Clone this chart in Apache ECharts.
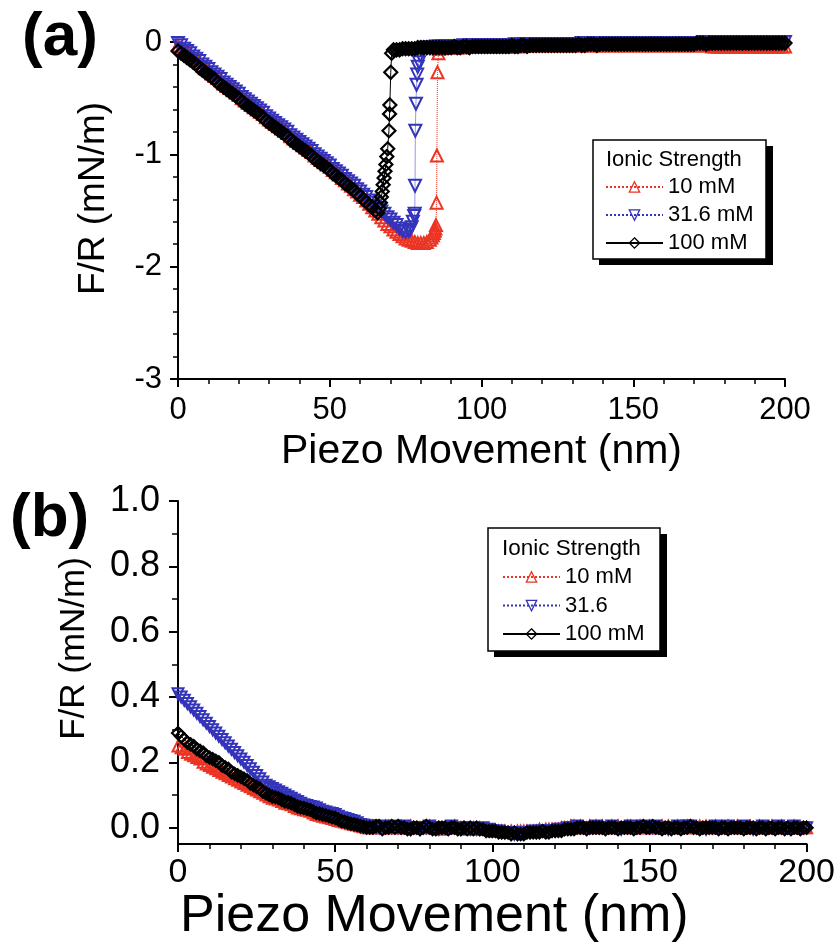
<!DOCTYPE html>
<html><head><meta charset="utf-8">
<script src="https://cdn.jsdelivr.net/npm/echarts@6/dist/echarts.min.js"></script>
<style>html,body{margin:0;padding:0;background:#fff}#c{width:838px;height:944px}</style>
</head><body><div id="c"></div>
<script>
// ---------- Panel (a) data (approach, F/R vs piezo movement) ----------
const piezoSlopeA = [0,1,2,3,4,5,6,7,8,9,10,11,12,13,14,15,16,17,18,19,20,21,22,23,24,25,26,27,28,29,30,31,32,33,34,35,36,37,38,39,40,41,42,43,44,45,46,47,48,49,50,51,52,53,54,55,56,57,58,59,60,61,62,63,64];
const fr10A_slope = [-0.03,-0.05,-0.07,-0.09,-0.11,-0.14,-0.16,-0.18,-0.21,-0.23,
  -0.25,-0.28,-0.30,-0.32,-0.34,-0.37,-0.39,-0.41,-0.43,-0.45,
  -0.47,-0.50,-0.52,-0.54,-0.56,-0.58,-0.60,-0.62,-0.64,-0.67,
  -0.69,-0.71,-0.73,-0.75,-0.77,-0.79,-0.81,-0.84,-0.86,-0.88,
  -0.90,-0.92,-0.94,-0.96,-0.98,-1.01,-1.03,-1.05,-1.07,-1.09,
  -1.11,-1.14,-1.16,-1.18,-1.21,-1.23,-1.26,-1.28,-1.31,-1.33,
  -1.36,-1.38,-1.41,-1.44,-1.47];
const fr31A_slope = [-0.01,-0.03,-0.06,-0.08,-0.10,-0.13,-0.15,-0.17,-0.20,-0.22,
  -0.24,-0.27,-0.29,-0.31,-0.33,-0.36,-0.38,-0.40,-0.42,-0.44,
  -0.46,-0.49,-0.51,-0.53,-0.55,-0.57,-0.59,-0.61,-0.63,-0.66,
  -0.68,-0.70,-0.72,-0.74,-0.76,-0.78,-0.80,-0.83,-0.85,-0.87,
  -0.89,-0.91,-0.93,-0.95,-0.97,-1.00,-1.02,-1.04,-1.06,-1.08,
  -1.10,-1.13,-1.15,-1.17,-1.19,-1.22,-1.24,-1.26,-1.28,-1.31,
  -1.33,-1.36,-1.38,-1.41,-1.43];
const fr100A_slope = [-0.08,-0.10,-0.12,-0.14,-0.16,-0.18,-0.20,-0.23,-0.25,-0.27,
  -0.29,-0.31,-0.33,-0.36,-0.38,-0.40,-0.42,-0.44,-0.46,-0.48,
  -0.50,-0.53,-0.55,-0.57,-0.59,-0.61,-0.63,-0.65,-0.67,-0.70,
  -0.72,-0.74,-0.76,-0.78,-0.80,-0.82,-0.84,-0.87,-0.89,-0.91,
  -0.93,-0.95,-0.97,-0.99,-1.01,-1.04,-1.06,-1.08,-1.10,-1.12,
  -1.14,-1.17,-1.19,-1.21,-1.23,-1.26,-1.28,-1.30,-1.32,-1.35,
  -1.37,-1.40,-1.42,-1.45,-1.47];

const piezoJump10A = [65,66,67,68,69,70,71,72,73,74,75,76,77,78,79,80,81,82,83,83.5,84,84.3,84.6,84.8,85,85.2,85.3,85.5,85.8,86,87];
const fr10A_jump   = [-1.50,-1.53,-1.56,-1.59,-1.62,-1.64,-1.67,-1.69,-1.71,-1.73,-1.75,-1.76,-1.77,-1.78,-1.79,-1.79,-1.79,-1.78,-1.76,-1.74,-1.72,-1.70,-1.68,-1.66,-1.63,-1.43,-1.01,-0.27,-0.10,-0.06,-0.05];
const piezoJump31A = [65,66,67,68,69,70,71,72,73,74,75,76,76.5,77,77.4,77.8,78,78.1,78.2,78.4,78.6,78.8,79,79.4,79.8,80.3,81,82,83,84,85,86,87];
const fr31A_jump   = [-1.46,-1.48,-1.51,-1.53,-1.56,-1.58,-1.61,-1.63,-1.66,-1.68,-1.69,-1.68,-1.67,-1.65,-1.60,-1.55,-1.53,-1.28,-0.79,-0.55,-0.38,-0.29,-0.22,-0.18,-0.12,-0.07,-0.06,-0.05,-0.05,-0.05,-0.04,-0.04,-0.04];
const piezoJump100A = [65,65.8,66.3,66.7,67,67.3,67.6,67.9,68.2,68.5,68.8,69.1,69.5,69.7,69.8,70.1,70.4,71,72,73,74,75,76,77,78,79,80,81,82,83,84,85,86,87];
const fr100A_jump   = [-1.50,-1.52,-1.48,-1.43,-1.38,-1.33,-1.27,-1.21,-1.15,-1.09,-1.02,-0.95,-0.79,-0.64,-0.56,-0.27,-0.10,-0.07,-0.07,-0.07,-0.06,-0.06,-0.06,-0.06,-0.06,-0.05,-0.05,-0.05,-0.05,-0.05,-0.05,-0.05,-0.05,-0.05];

const piezoFlatA = [88,89,90,91,92,93,94,95,96,97,98,99,100,101,102,103,104,105,106,107,108,109,110,111,112,113,114,115,116,117,118,119,120,121,122,123,124,125,126,127,128,129,130,131,132,133,134,135,136,137,138,139,140,141,142,143,144,145,146,147,148,149,150,151,152,153,154,155,156,157,158,159,160,161,162,163,164,165,166,167,168,169,170,171,172,173,174,175,176,177,178,179,180,181,182,183,184,185,186,187,188,189,190,191,192,193,194,195,196,197,198,199,200];
const fr10A_flat = [-0.05,-0.05,-0.05,-0.05,-0.05,-0.04,-0.05,-0.04,-0.04,-0.04,
  -0.04,-0.04,-0.04,-0.04,-0.04,-0.04,-0.04,-0.04,-0.04,-0.04,
  -0.04,-0.04,-0.04,-0.03,-0.04,-0.03,-0.03,-0.03,-0.03,-0.03,
  -0.03,-0.03,-0.03,-0.03,-0.03,-0.03,-0.03,-0.03,-0.03,-0.03,
  -0.03,-0.03,-0.03,-0.03,-0.03,-0.03,-0.03,-0.03,-0.03,-0.03,
  -0.03,-0.03,-0.03,-0.03,-0.03,-0.03,-0.03,-0.03,-0.03,-0.03,
  -0.03,-0.03,-0.03,-0.03,-0.03,-0.03,-0.03,-0.03,-0.03,-0.03,
  -0.03,-0.03,-0.03,-0.03,-0.03,-0.03,-0.03,-0.03,-0.03,-0.03,
  -0.03,-0.03,-0.03,-0.03,-0.03,-0.03,-0.03,-0.03,-0.04,-0.04,
  -0.04,-0.04,-0.04,-0.04,-0.04,-0.04,-0.04,-0.04,-0.04,-0.04,
  -0.04,-0.04,-0.04,-0.04,-0.04,-0.04,-0.04,-0.04,-0.04,-0.04,
  -0.04,-0.04,-0.04];
const fr31A_flat = [-0.04,-0.04,-0.04,-0.04,-0.04,-0.04,-0.03,-0.04,-0.03,-0.03,
  -0.03,-0.03,-0.03,-0.03,-0.03,-0.03,-0.03,-0.03,-0.03,-0.03,
  -0.03,-0.03,-0.03,-0.02,-0.03,-0.02,-0.02,-0.02,-0.02,-0.02,
  -0.02,-0.02,-0.02,-0.02,-0.02,-0.02,-0.02,-0.02,-0.02,-0.02,
  -0.02,-0.02,-0.02,-0.02,-0.02,-0.01,-0.02,-0.01,-0.01,-0.01,
  -0.01,-0.01,-0.01,-0.01,-0.01,-0.01,-0.01,-0.01,-0.01,-0.01,
  -0.01,-0.01,-0.01,-0.01,-0.01,-0.01,-0.01,-0.01,-0.01,-0.01,
  -0.01,-0.01,-0.01,-0.01,-0.01,-0.01,-0.01,-0.01,-0.01,-0.01,
  -0.01,-0.01,-0.01,-0.01,-0.01,0.0,-0.01,-0.01,0.0,-0.01,
  0.0,-0.01,0.0,0.0,-0.01,0.0,0.0,0.0,-0.01,0.0,
  0.0,0.0,-0.01,0.0,0.0,0.0,-0.01,0.0,0.0,0.0,
  0.0,0.0,0.0];
const fr100A_flat = [-0.05,-0.05,-0.05,-0.04,-0.05,-0.05,-0.04,-0.04,-0.05,-0.04,
  -0.04,-0.04,-0.04,-0.04,-0.04,-0.04,-0.04,-0.04,-0.04,-0.04,
  -0.04,-0.04,-0.03,-0.04,-0.04,-0.03,-0.03,-0.04,-0.03,-0.03,
  -0.03,-0.03,-0.03,-0.03,-0.03,-0.03,-0.03,-0.03,-0.03,-0.03,
  -0.03,-0.03,-0.03,-0.03,-0.02,-0.03,-0.03,-0.02,-0.02,-0.02,
  -0.03,-0.02,-0.02,-0.02,-0.02,-0.02,-0.02,-0.02,-0.02,-0.02,
  -0.02,-0.02,-0.02,-0.02,-0.02,-0.02,-0.02,-0.02,-0.02,-0.02,
  -0.02,-0.02,-0.02,-0.02,-0.02,-0.02,-0.02,-0.02,-0.02,-0.02,
  -0.02,-0.02,-0.02,-0.01,-0.01,-0.01,-0.02,-0.01,-0.01,-0.01,
  -0.01,-0.01,-0.01,-0.01,-0.01,-0.01,-0.01,-0.01,-0.01,-0.01,
  -0.01,-0.01,-0.01,-0.01,-0.01,-0.01,-0.01,-0.01,-0.01,-0.01,
  -0.01,-0.01,-0.01];

// ---------- Panel (b) data ----------
const piezoB = [0,1,2,3,4,5,6,7,8,9,10,11,12,13,14,15,16,17,18,19,20,21,22,23,24,25,26,27,28,29,30,31,32,33,34,35,36,37,38,39,40,41,42,43,44,45,46,47,48,49,50,51,52,53,54,55,56,57,58,59,60,61,62,63,64,65,66,67,68,69,70,71,72,73,74,75,76,77,78,79,80,81,82,83,84,85,86,87,88,89,90,91,92,93,94,95,96,97,98,99,100,101,102,103,104,105,106,107,108,109,110,111,112,113,114,115,116,117,118,119,120,121,122,123,124,125,126,127,128,129,130,131,132,133,134,135,136,137,138,139,140,141,142,143,144,145,146,147,148,149,150,151,152,153,154,155,156,157,158,159,160,161,162,163,164,165,166,167,168,169,170,171,172,173,174,175,176,177,178,179,180,181,182,183,184,185,186,187,188,189,190,191,192,193,194,195,196,197,198,199,200];
const fr10B = [0.25,0.245,0.24,0.23,0.225,0.22,0.215,0.21,0.20,0.195,
  0.19,0.185,0.18,0.175,0.17,0.165,0.16,0.155,0.15,0.145,
  0.14,0.135,0.13,0.125,0.12,0.115,0.11,0.105,0.10,0.095,
  0.09,0.088,0.085,0.08,0.075,0.073,0.07,0.065,0.06,0.058,
  0.055,0.053,0.05,0.045,0.04,0.038,0.035,0.033,0.03,0.028,
  0.025,0.022,0.02,0.017,0.015,0.012,0.01,0.008,0.005,0.003,
  0.0,0.0,0.005,0.0,0.0,0.0,0.005,0.0,0.0,0.0,
  0.005,0.0,0.0,0.0,0.005,0.0,0.0,0.0,0.0,0.005,
  0.005,0.0,0.0,0.0,-0.005,0.0,0.0,0.0,0.005,0.0,
  0.0,0.0,-0.005,0.0,0.0,-0.005,0.0,-0.005,-0.005,-0.005,
  -0.01,-0.01,-0.01,-0.01,-0.01,-0.015,-0.01,-0.015,-0.01,-0.01,
  -0.01,-0.01,-0.01,-0.01,-0.01,-0.005,-0.01,-0.005,-0.005,-0.005,
  -0.005,-0.005,0.0,0.0,0.0,0.005,0.005,0.0,0.005,0.0,
  0.0,0.005,0.0,0.005,0.0,0.005,0.0,0.0,0.005,0.0,
  0.005,0.0,0.0,0.005,0.005,0.0,0.0,0.005,0.0,0.0,
  0.005,0.0,0.0,0.0,0.005,0.0,0.005,0.0,0.0,0.005,
  0.0,0.0,0.005,0.005,0.0,0.0,0.005,0.0,0.005,0.0,
  0.0,0.005,0.0,0.0,0.0,0.005,0.0,0.0,0.005,0.0,
  0.0,0.0,0.005,0.0,0.0,0.005,0.0,0.0,0.0,0.005,
  0.0,0.0,0.005,0.0,0.0,0.0,0.005,0.0,0.0,0.0,
  0.0];
const fr31B = [0.41,0.40,0.39,0.38,0.37,0.36,0.35,0.34,0.33,0.32,
  0.31,0.30,0.29,0.28,0.27,0.26,0.25,0.24,0.23,0.22,
  0.21,0.20,0.19,0.18,0.17,0.16,0.15,0.14,0.13,0.125,
  0.12,0.115,0.11,0.105,0.10,0.095,0.09,0.085,0.08,0.075,
  0.07,0.068,0.065,0.063,0.06,0.055,0.05,0.048,0.045,0.043,
  0.04,0.035,0.03,0.028,0.025,0.022,0.02,0.015,0.01,0.008,
  0.005,0.005,0.005,0.0,0.0,0.005,0.0,0.0,0.0,0.005,
  0.0,0.0,0.005,0.0,-0.005,0.0,0.0,-0.005,0.0,0.0,
  0.005,0.0,0.0,-0.005,0.0,0.0,0.0,0.005,0.0,-0.005,
  -0.005,0.0,0.0,-0.005,0.0,-0.005,-0.005,0.0,-0.01,-0.005,
  -0.01,-0.01,-0.01,-0.015,-0.015,-0.015,-0.02,-0.02,-0.02,-0.015,
  -0.015,-0.015,-0.015,-0.01,-0.015,-0.01,-0.01,-0.01,-0.01,-0.01,
  -0.01,-0.005,-0.005,-0.005,0.0,0.0,0.0,0.005,0.0,0.0,
  0.0,0.0,0.0,0.005,0.0,0.0,0.0,0.0,0.005,0.0,
  0.0,-0.005,0.0,0.0,0.005,0.0,0.0,0.0,0.005,0.0,
  0.0,0.0,0.005,0.0,0.0,0.0,-0.005,0.0,0.0,0.005,
  0.0,0.0,0.005,0.005,0.0,0.0,0.0,0.0,-0.005,0.0,
  0.0,0.005,0.0,0.0,0.0,0.005,0.0,0.0,0.0,0.0,
  0.005,0.0,0.0,-0.005,0.0,0.0,0.005,0.0,0.0,0.0,
  0.0,0.005,0.0,0.0,0.0,0.0,0.005,0.0,0.0,0.0,
  0.0];
const fr100B = [0.29,0.28,0.27,0.26,0.255,0.25,0.24,0.235,0.23,0.22,
  0.215,0.21,0.205,0.20,0.19,0.185,0.18,0.17,0.165,0.16,
  0.155,0.15,0.145,0.135,0.13,0.125,0.12,0.11,0.105,0.10,
  0.095,0.093,0.09,0.085,0.08,0.078,0.075,0.07,0.065,0.062,
  0.06,0.057,0.055,0.05,0.045,0.043,0.04,0.038,0.035,0.032,
  0.03,0.025,0.02,0.018,0.015,0.012,0.01,0.008,0.005,0.003,
  0.0,0.0,0.0,0.005,0.005,-0.005,0.0,0.0,0.005,0.0,
  0.005,0.0,0.0,-0.005,-0.005,0.0,0.0,-0.005,0.0,0.005,
  0.0,-0.005,-0.005,0.0,0.0,0.0,-0.005,0.0,0.0,-0.005,
  -0.005,0.0,-0.005,0.0,-0.005,0.0,-0.005,-0.005,-0.01,-0.01,
  -0.01,-0.01,-0.015,-0.015,-0.015,-0.015,-0.02,-0.015,-0.02,-0.02,
  -0.02,-0.015,-0.015,-0.015,-0.015,-0.015,-0.01,-0.015,-0.015,-0.01,
  -0.01,-0.01,-0.01,-0.005,-0.005,-0.005,-0.005,0.0,0.0,0.0,
  -0.005,0.0,0.0,0.0,0.0,0.0,-0.005,0.0,0.0,0.0,
  -0.005,0.0,0.0,0.0,0.0,-0.005,0.0,0.0,0.005,0.0,
  0.0,0.005,0.0,0.0,-0.005,0.0,0.0,-0.005,0.0,0.0,
  -0.005,0.0,0.0,0.005,0.0,0.0,-0.005,0.0,0.0,0.0,
  0.0,0.0,-0.005,0.0,0.0,-0.005,0.0,0.0,0.0,0.0,
  -0.005,0.0,0.0,0.0,-0.005,0.0,0.0,-0.005,0.0,0.0,
  -0.005,0.0,0.0,-0.005,0.0,-0.005,0.0,0.0,-0.005,0.0,
  0.0];

// ---------- Text ----------
const seriesNamesA = ['10 mM', '31.6 mM', '100 mM'];
const seriesNamesB = ['10 mM', '31.6', '100 mM'];
const legendTitle = 'Ionic Strength';
const xTitle = 'Piezo Movement (nm)';
const yTitle = 'F/R (mN/m)';
const xTicks = [0, 50, 100, 150, 200];
const yTicksA = [-3, -2, -1, 0];
const yTicksB = [0.0, 0.2, 0.4, 0.6, 0.8, 1.0];
const yMinorB = [0.1, 0.3, 0.5, 0.7, 0.9];

// ---------- Build ----------
const FONT = '"Liberation Sans", Arial, sans-serif';
const RED = '#ec3424', BLUE = '#3333bb', BLACK = '#000000';
const zip = (xs, ys) => xs.map((x, i) => [x, ys[i]]);

const dataA10  = zip(piezoSlopeA.concat(piezoJump10A, piezoFlatA),  fr10A_slope.concat(fr10A_jump, fr10A_flat));
const dataA31  = zip(piezoSlopeA.concat(piezoJump31A, piezoFlatA),  fr31A_slope.concat(fr31A_jump, fr31A_flat));
const dataA100 = zip(piezoSlopeA.concat(piezoJump100A, piezoFlatA), fr100A_slope.concat(fr100A_jump, fr100A_flat));

function mk(name, data, color, symbol, rotate, lineType, xi, yi, size, bw) {
  return {
    name, type: 'line', data, xAxisIndex: xi, yAxisIndex: yi,
    symbol, symbolRotate: rotate, symbolSize: size, showAllSymbol: true,
    lineStyle: { color, width: 1, type: lineType },
    itemStyle: { color: 'rgba(255,255,255,0)', borderColor: color, borderWidth: bw },
    emphasis: { disabled: true }, animation: false, z: 3
  };
}

const axisCommon = {
  axisLine: { show: true, onZero: false, lineStyle: { color: '#000', width: 2 } },
  axisTick: { show: true, length: 8, lineStyle: { color: '#000', width: 2 } },
  splitLine: { show: false },
};

const chart = echarts.init(document.getElementById('c'), null, { renderer: 'canvas' });
chart.setOption({
  animation: false,
  backgroundColor: '#fff',
  grid: [
    { left: 178, top: 42, width: 607, height: 337 },
    { left: 178, top: 501, width: 630, height: 352 }
  ],
  xAxis: [
    Object.assign({}, axisCommon, {
      gridIndex: 0, type: 'value', min: 0, max: 200, interval: 50,
      axisLabel: { fontFamily: FONT, fontSize: 31, color: '#000', margin: 16, customValues: xTicks },
      minorTick: { show: true, splitNumber: 5, length: 5, lineStyle: { color: '#000', width: 1.5 } },
      name: xTitle, nameLocation: 'middle', nameGap: 52,
      nameTextStyle: { fontFamily: FONT, fontSize: 41, color: '#000' }
    }),
    Object.assign({}, axisCommon, {
      gridIndex: 1, type: 'value', min: 0, max: 200, interval: 50,
      axisLabel: { fontFamily: FONT, fontSize: 34, color: '#000', margin: 12, customValues: xTicks },
      minorTick: { show: true, splitNumber: 5, length: 5, lineStyle: { color: '#000', width: 1.5 } },
      name: xTitle, nameLocation: 'middle', nameGap: 47,
      nameTextStyle: { fontFamily: FONT, fontSize: 52, color: '#000', padding: [0, 116, 0, 0] }
    })
  ],
  yAxis: [
    Object.assign({}, axisCommon, {
      gridIndex: 0, type: 'value', min: -3, max: 0, interval: 1, position: 'left',
      axisLabel: { fontFamily: FONT, fontSize: 31, color: '#000', margin: 16, customValues: yTicksA },
      minorTick: { show: true, splitNumber: 5, length: 5, lineStyle: { color: '#000', width: 1.5 } },
      name: yTitle, nameLocation: 'middle', nameGap: 66,
      nameTextStyle: { fontFamily: FONT, fontSize: 37, color: '#000', padding: [0, 0, 0, 24] }
    }),
    Object.assign({}, axisCommon, {
      gridIndex: 1, type: 'value', min: -0.05, max: 1.0, position: 'left',
      axisLabel: { fontFamily: FONT, fontSize: 36, color: '#000', margin: 18, customValues: yTicksB,
                   formatter: v => v.toFixed(1) },
      axisTick: { show: true, length: 9, customValues: yTicksB, lineStyle: { color: '#000', width: 2 } },
      name: yTitle, nameLocation: 'middle', nameGap: 86,
      nameTextStyle: { fontFamily: FONT, fontSize: 35, color: '#000', padding: [0, 0, 0, 48] }
    }),
    {
      gridIndex: 1, type: 'value', min: -0.05, max: 1.0, position: 'left', offset: 0,
      axisLine: { show: false }, axisLabel: { show: false }, splitLine: { show: false },
      axisTick: { show: true, length: 6, customValues: yMinorB, lineStyle: { color: '#000', width: 1.5 } }
    }
  ],
  legend: [
    {
      left: 605, top: 176, orient: 'vertical', padding: 0, itemWidth: 57, itemHeight: 13, itemGap: 6,
      data: seriesNamesA, selectedMode: false, z: 20,
      itemStyle: { borderWidth: 1.3 },
      textStyle: { fontFamily: FONT, fontSize: 22, color: '#000', lineHeight: 22 }
    },
    {
      left: 502, top: 566, orient: 'vertical', padding: 0, itemWidth: 57, itemHeight: 13, itemGap: 6.5,
      data: seriesNamesB, selectedMode: false, z: 20,
      itemStyle: { borderWidth: 1.3 },
      textStyle: { fontFamily: FONT, fontSize: 22, color: '#000', lineHeight: 22 }
    }
  ],
  graphic: [
    { type: 'rect', z: 10, shape: { x: 599, y: 146, width: 174, height: 119 }, style: { fill: '#000' } },
    { type: 'rect', z: 11, shape: { x: 593, y: 140, width: 173, height: 119 }, style: { fill: '#fff', stroke: '#000', lineWidth: 1.5 } },
    { type: 'text', z: 12, style: { x: 606, y: 160, text: legendTitle, font: '22px ' + FONT, fill: '#000', verticalAlign: 'middle' } },
    { type: 'rect', z: 10, shape: { x: 494, y: 534, width: 173, height: 123 }, style: { fill: '#000' } },
    { type: 'rect', z: 11, shape: { x: 488, y: 528, width: 172, height: 123 }, style: { fill: '#fff', stroke: '#000', lineWidth: 1.5 } },
    { type: 'text', z: 12, style: { x: 502, y: 549, text: legendTitle, font: '22.5px ' + FONT, fill: '#000', verticalAlign: 'middle' } },
    { type: 'text', z: 12, style: { x: 22, y: 38, text: '(a)', font: 'bold 62px ' + FONT, fill: '#000', verticalAlign: 'middle' } },
    { type: 'text', z: 12, style: { x: 10, y: 519, text: '(b)', font: 'bold 62px ' + FONT, fill: '#000', verticalAlign: 'middle' } }
  ],
  series: [
    mk(seriesNamesA[0], dataA10,  RED,   'triangle', 0,   'dotted', 0, 0, 12, 2),
    mk(seriesNamesA[1], dataA31,  BLUE,  'triangle', 180, 'dotted', 0, 0, 12, 2),
    mk(seriesNamesA[2], dataA100, BLACK, 'diamond',  0,   'solid',  0, 0, 13, 2.2),
    mk(seriesNamesB[0], zip(piezoB, fr10B),  RED,   'triangle', 0,   'dotted', 1, 1, 11, 2),
    mk(seriesNamesB[1], zip(piezoB, fr31B),  BLUE,  'triangle', 180, 'dotted', 1, 1, 11, 2),
    mk(seriesNamesB[2], zip(piezoB, fr100B), BLACK, 'diamond',  0,   'solid',  1, 1, 12, 2.2)
  ]
});
</script>
</body></html>
